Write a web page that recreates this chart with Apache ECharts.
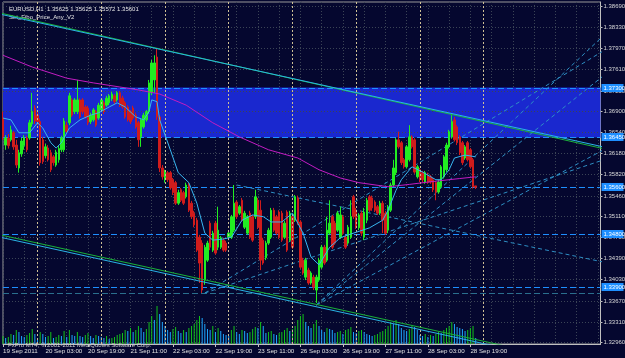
<!DOCTYPE html>
<html><head><meta charset="utf-8">
<script src="https://cdn.jsdelivr.net/npm/echarts@6/dist/echarts.min.js"></script>
<style>html,body{margin:0;padding:0;background:#05072f;}#c{width:625px;height:358px;}</style>
</head><body><div id="c"></div>
<script>
// ---------- DATA ----------
const symbolTitle = 'EURUSD,H1  1.35625 1.35625 1.35572 1.35601';
const indicatorTitle = 'Set_Fibo_Price_Any_V2';
const copyrightText = 'FxPro MT4, \u00a9 2001-2011 MetaQuotes Software Corp.';
// candles: [open, close, low, high]
const candles = [
[1.3678,1.3646,1.3641,1.3689],[1.3632,1.3644,1.3624,1.3649],[1.3644,1.3631,1.3626,1.3651],[1.3641,1.3658,1.3638,1.3665],
[1.3653,1.3629,1.3624,1.3656],[1.3632,1.3598,1.3593,1.3641],[1.3593,1.3619,1.3585,1.3624],[1.3617,1.3639,1.3612,1.3644],
[1.3631,1.3644,1.3624,1.3649],[1.3644,1.3624,1.3620,1.3648],[1.3644,1.3670,1.3641,1.3675],[1.3668,1.3689,1.3663,1.3721],
[1.3695,1.3673,1.3668,1.3700],[1.3683,1.3672,1.3666,1.3689],[1.3672,1.3602,1.3597,1.3677],[1.3641,1.3604,1.3600,1.3646],
[1.3614,1.3629,1.3610,1.3634],[1.3627,1.3607,1.3604,1.3632],[1.3619,1.3590,1.3586,1.3624],[1.3612,1.3602,1.3597,1.3615],
[1.3598,1.3620,1.3595,1.3624],[1.3607,1.3626,1.3602,1.3631],[1.3624,1.3644,1.3620,1.3648],[1.3624,1.3673,1.3620,1.3678],
[1.3666,1.3655,1.3651,1.3672],[1.3670,1.3716,1.3666,1.3721],[1.3709,1.3683,1.3680,1.3712],[1.3689,1.3709,1.3685,1.3712],
[1.3689,1.3709,1.3685,1.3743],[1.3709,1.3680,1.3677,1.3712],[1.3709,1.3689,1.3685,1.3712],[1.3697,1.3680,1.3677,1.3700],
[1.3695,1.3670,1.3666,1.3699],[1.3672,1.3683,1.3668,1.3687],[1.3675,1.3692,1.3672,1.3695],[1.3689,1.3666,1.3663,1.3692],
[1.3678,1.3700,1.3675,1.3704],[1.3692,1.3709,1.3689,1.3712],[1.3704,1.3689,1.3685,1.3707],[1.3700,1.3712,1.3697,1.3716],
[1.3704,1.3716,1.3700,1.3719],[1.3711,1.3719,1.3707,1.3723],[1.3716,1.3706,1.3702,1.3719],[1.3709,1.3721,1.3706,1.3724],
[1.3721,1.3700,1.3697,1.3724],[1.3712,1.3697,1.3694,1.3716],[1.3704,1.3680,1.3677,1.3707],[1.3697,1.3675,1.3672,1.3700],
[1.3689,1.3672,1.3668,1.3692],[1.3695,1.3678,1.3675,1.3699],[1.3683,1.3663,1.3660,1.3687],[1.3670,1.3641,1.3629,1.3673],
[1.3646,1.3675,1.3629,1.3678],[1.3663,1.3683,1.3660,1.3687],[1.3675,1.3689,1.3672,1.3692],[1.3689,1.3738,1.3685,1.3743],
[1.3721,1.3772,1.3717,1.3777],[1.3743,1.3772,1.3721,1.3785],[1.3782,1.3680,1.3675,1.3797],[1.3680,1.3593,1.3586,1.3683],
[1.3593,1.3578,1.3573,1.3598],[1.3573,1.3586,1.3568,1.3590],[1.3585,1.3573,1.3569,1.3588],[1.3585,1.3559,1.3556,1.3588],
[1.3573,1.3551,1.3547,1.3576],[1.3568,1.3533,1.3530,1.3571],[1.3533,1.3551,1.3530,1.3556],[1.3556,1.3538,1.3535,1.3559],
[1.3551,1.3533,1.3530,1.3554],[1.3544,1.3564,1.3541,1.3568],[1.3564,1.3521,1.3518,1.3568],[1.3533,1.3510,1.3506,1.3537],
[1.3516,1.3496,1.3492,1.3520],[1.3504,1.3453,1.3450,1.3508],[1.3475,1.3431,1.3397,1.3479],[1.3465,1.3385,1.3380,1.3470],
[1.3402,1.3458,1.3394,1.3462],[1.3436,1.3465,1.3433,1.3469],[1.3499,1.3458,1.3453,1.3503],[1.3453,1.3482,1.3450,1.3486],
[1.3499,1.3448,1.3445,1.3503],[1.3458,1.3487,1.3453,1.3527],[1.3458,1.3474,1.3455,1.3477],[1.3470,1.3453,1.3450,1.3474],
[1.3465,1.3453,1.3450,1.3469],[1.3475,1.3482,1.3470,1.3486],[1.3475,1.3510,1.3472,1.3513],[1.3487,1.3533,1.3484,1.3564],
[1.3535,1.3510,1.3506,1.3538],[1.3516,1.3527,1.3513,1.3530],[1.3538,1.3504,1.3501,1.3542],[1.3492,1.3516,1.3489,1.3520],
[1.3482,1.3510,1.3479,1.3513],[1.3516,1.3475,1.3472,1.3520],[1.3510,1.3470,1.3467,1.3513],[1.3510,1.3544,1.3506,1.3556],
[1.3538,1.3492,1.3489,1.3542],[1.3521,1.3436,1.3419,1.3538],[1.3470,1.3431,1.3428,1.3474],[1.3440,1.3465,1.3436,1.3469],
[1.3465,1.3487,1.3462,1.3491],[1.3475,1.3521,1.3472,1.3525],[1.3521,1.3487,1.3484,1.3525],[1.3510,1.3482,1.3479,1.3513],
[1.3518,1.3475,1.3472,1.3521],[1.3516,1.3470,1.3467,1.3520],[1.3475,1.3499,1.3472,1.3503],[1.3518,1.3453,1.3450,1.3521],
[1.3470,1.3516,1.3467,1.3520],[1.3510,1.3458,1.3455,1.3513],[1.3504,1.3544,1.3501,1.3547],[1.3542,1.3499,1.3496,1.3546],
[1.3501,1.3424,1.3421,1.3504],[1.3436,1.3414,1.3411,1.3440],[1.3407,1.3436,1.3402,1.3440],[1.3419,1.3397,1.3394,1.3423],
[1.3397,1.3414,1.3394,1.3417],[1.3407,1.3390,1.3385,1.3411],[1.3385,1.3407,1.3363,1.3411],[1.3402,1.3436,1.3399,1.3440],
[1.3424,1.3458,1.3421,1.3462],[1.3458,1.3431,1.3428,1.3462],[1.3436,1.3487,1.3433,1.3510],[1.3482,1.3499,1.3479,1.3538],
[1.3510,1.3458,1.3455,1.3513],[1.3499,1.3465,1.3462,1.3503],[1.3487,1.3516,1.3484,1.3520],[1.3475,1.3513,1.3472,1.3527],
[1.3510,1.3482,1.3479,1.3513],[1.3475,1.3458,1.3455,1.3479],[1.3465,1.3492,1.3462,1.3496],[1.3475,1.3510,1.3472,1.3538],
[1.3544,1.3510,1.3506,1.3547],[1.3521,1.3492,1.3489,1.3525],[1.3491,1.3513,1.3487,1.3516],[1.3516,1.3482,1.3477,1.3520],
[1.3475,1.3518,1.3470,1.3525],[1.3504,1.3538,1.3499,1.3542],[1.3544,1.3521,1.3518,1.3547],[1.3542,1.3525,1.3520,1.3546],
[1.3535,1.3521,1.3518,1.3538],[1.3527,1.3516,1.3513,1.3530],[1.3516,1.3533,1.3513,1.3537],[1.3533,1.3504,1.3482,1.3537],
[1.3516,1.3482,1.3479,1.3520],[1.3487,1.3527,1.3482,1.3530],[1.3521,1.3564,1.3518,1.3568],[1.3564,1.3593,1.3561,1.3607],
[1.3585,1.3641,1.3581,1.3644],[1.3641,1.3629,1.3626,1.3655],[1.3636,1.3602,1.3598,1.3639],[1.3607,1.3595,1.3592,1.3610],
[1.3595,1.3629,1.3592,1.3632],[1.3607,1.3646,1.3604,1.3666],[1.3646,1.3629,1.3626,1.3649],[1.3641,1.3586,1.3583,1.3644],
[1.3578,1.3595,1.3575,1.3598],[1.3590,1.3573,1.3569,1.3593],[1.3585,1.3573,1.3569,1.3588],[1.3569,1.3585,1.3566,1.3588],
[1.3581,1.3569,1.3566,1.3585],[1.3578,1.3569,1.3566,1.3581],[1.3573,1.3556,1.3552,1.3576],[1.3568,1.3552,1.3538,1.3571],
[1.3552,1.3569,1.3549,1.3573],[1.3561,1.3595,1.3558,1.3598],[1.3578,1.3612,1.3575,1.3615],[1.3590,1.3632,1.3586,1.3636],
[1.3629,1.3655,1.3626,1.3658],[1.3646,1.3672,1.3643,1.3683],[1.3675,1.3641,1.3638,1.3680],[1.3663,1.3636,1.3632,1.3666],
[1.3646,1.3619,1.3615,1.3649],[1.3636,1.3602,1.3598,1.3639],[1.3610,1.3629,1.3607,1.3632],[1.3636,1.3607,1.3604,1.3639],
[1.3624,1.3595,1.3592,1.3627],[1.3607,1.3561,1.3558,1.3610],[1.35625,1.35601,1.35572,1.35625]
];
const volumes = [
240,180,210,300,270,420,360,240,210,270,330,450,300,
180,360,300,210,240,360,180,210,270,240,390,210,
420,270,240,360,240,210,270,330,240,180,270,240,
210,180,240,150,180,210,270,300,330,420,390,480,
360,420,540,480,360,450,660,840,720,1140,900,660,
540,420,360,450,510,390,330,420,360,480,540,600,
720,840,780,600,450,420,540,360,480,390,300,270,
240,420,540,360,300,420,390,330,360,450,510,480,
660,540,330,360,390,300,270,330,360,420,480,390,
450,540,720,840,900,660,540,480,600,720,540,420,
360,480,450,420,330,360,390,300,420,450,510,360,
330,390,420,360,300,270,240,270,300,360,390,450,
540,660,600,720,600,480,420,390,450,540,510,420,
270,240,300,210,270,240,300,360,330,420,480,540,
660,600,510,480,450,390,420,480,540,180
];
// moving averages read at sample bars: [barIndex, price]
const fastMA = [[0,1.3678],[3,1.3675],[6,1.3653],[10,1.3653],[13,1.3670],[15,1.3661],[18,1.3636],[20,1.3627],[22,1.3636],
[25,1.3661],[29,1.3675],[33,1.3683],[36,1.3687],[40,1.3697],[43,1.3704],[46,1.3697],[50,1.3680],[53,1.3675],[55,1.3689],
[56,1.3709],[58,1.3706],[59,1.3675],[63,1.3624],[66,1.3585],[70,1.3568],[73,1.3533],[76,1.3482],[79,1.3470],[83,1.3472],
[86,1.3475],[90,1.3504],[94,1.3513],[98,1.3510],[101,1.3501],[105,1.3501],[109,1.3516],[113,1.3482],[116,1.3441],
[119,1.3428],[123,1.3458],[127,1.3474],[130,1.3479],[138,1.3491],[143,1.3504],[145,1.3521],[148,1.3555],[150,1.3573],
[154,1.3595],[158,1.3586],[163,1.3573],[165,1.3573],[168,1.3590],[170,1.3610],[174,1.3615],[178,1.3612]];
const slowMA = [[0,1.3785],[11,1.3765],[24,1.3746],[34,1.3738],[44,1.3731],[51,1.3726],[59,1.3719],[69,1.3700],[79,1.3670],
[89,1.3646],[100,1.3624],[111,1.3610],[119,1.3590],[127,1.3576],[134,1.3568],[145,1.3561],[153,1.3565],[160,1.3569],
[172,1.3575],[178,1.3578]];
const priceTicks = [1.38690,1.38330,1.37970,1.37610,1.37250,1.36900,1.36540,1.36180,1.35820,1.35460,1.35110,1.34750,1.34390,1.34030,1.33670,1.33310,1.32960];
const levelPrices = [1.37300,1.36450,1.35600,1.34800,1.33900];
const extraLevelPrices = [1.33800];
const bandRange = [1.36450,1.37300];
const timeLabels = ['19 Sep 2011','20 Sep 03:00','20 Sep 19:00','21 Sep 11:00','22 Sep 03:00','22 Sep 19:00','23 Sep 11:00','26 Sep 03:00','26 Sep 19:00','27 Sep 11:00','28 Sep 03:00','28 Sep 19:00'];
const daySeparators = ['20 Sep 00:00','21 Sep 00:00','22 Sep 00:00','23 Sep 00:00','26 Sep 00:00','27 Sep 00:00','28 Sep 00:00','29 Sep 00:00'];
// solid trend lines: [[bar, price],[bar, price]]
const trendGreenTop = [[-1,1.3857],[226,1.3626]];
const trendCyanTop = [[-1,1.3855],[226,1.3629]];
const trendCyanLow = [[-1,1.3475],[226,1.3249]];
const trendGreenLow = [[-1,1.3479],[226,1.3253]];
// dashed fan / channel lines
const fanLines = [
  [[117.7,1.33595],[225.6,1.38179]],
  [[117.7,1.33595],[225.6,1.37497]],
  [[117.7,1.33595],[225.6,1.36236]],
  [[76.3,1.33800],[225.6,1.37923]],
  [[76.3,1.33800],[225.6,1.36066]],
  [[87.6,1.35640],[225.6,1.34328]]
];

// ---------- time categories (hourly, weekend skipped) ----------
const months = ['Jan','Feb','Mar','Apr','May','Jun','Jul','Aug','Sep','Oct','Nov','Dec'];
const categories = [];
let t = Date.UTC(2011, 8, 19, 11);
while (categories.length < 226) {
  const d = new Date(t);
  const dow = d.getUTCDay();
  if (dow !== 0 && dow !== 6) {
    const hh = String(d.getUTCHours()).padStart(2, '0');
    categories.push(d.getUTCDate() + ' ' + months[d.getUTCMonth()] + ' ' + hh + ':00');
  }
  t += 3600000;
}
const labelSet = new Set(timeLabels.slice(1));
const showLabel = (idx, val) => idx === 0 || labelSet.has(val);

const FONT = 'Liberation Sans';
const chart = echarts.init(document.getElementById('c'), null, {renderer: 'canvas'});

function tickRender(params, api) {
  const cs = params.coordSys;
  const v = api.value(1);
  const y = Math.round(api.coord([0, v])[1]) + 0.5;
  return {type: 'group', children: [
    {type: 'line', shape: {x1: cs.x, y1: y, x2: cs.x + cs.width, y2: y},
     style: {stroke: '#3b4456', lineWidth: 1, lineDash: [1, 2]}},
    {type: 'line', shape: {x1: cs.x + cs.width, y1: y, x2: cs.x + cs.width + 2, y2: y},
     style: {stroke: '#c0c0c0', lineWidth: 1}},
    {type: 'text', style: {x: cs.x + cs.width + 3, y: y, text: v.toFixed(5), fill: '#d8d8d8',
      fontSize: 6, fontFamily: FONT, verticalAlign: 'middle', align: 'left'}}
  ]};
}
function hLineRender(color, dash) {
  return function (params, api) {
    const cs = params.coordSys;
    const y = Math.round(api.coord([0, api.value(1)])[1]) + 0.5;
    return {type: 'line', shape: {x1: cs.x, y1: y, x2: cs.x + cs.width, y2: y},
      style: {stroke: color, lineWidth: 1, lineDash: dash}};
  };
}
function levelLabelRender(params, api) {
  const cs = params.coordSys;
  const v = api.value(1);
  const y = Math.round(api.coord([0, v])[1]);
  return {type: 'group', children: [
    {type: 'rect', shape: {x: cs.x + cs.width + 1, y: y - 4, width: 22, height: 8},
     style: {fill: '#1e8fff'}},
    {type: 'text', style: {x: cs.x + cs.width + 3, y: y, text: v.toFixed(5), fill: '#ffffff',
      fontSize: 6, fontFamily: FONT, verticalAlign: 'middle', align: 'left'}}
  ]};
}
const lineSer = (name, data, color, z, dash) => ({
  type: 'line', name, data, showSymbol: false, symbol: 'none', silent: true, z: z || 3,
  lineStyle: {color, width: 1, type: dash || 'solid'}, clip: true, animation: false
});

const series = [
  {type: 'line', name: 'band', data: [], z: 0, silent: true,
   markArea: {silent: true, itemStyle: {color: '#1a28cf', opacity: 1}, data: [[{yAxis: bandRange[0]}, {yAxis: bandRange[1]}]]}},
  {type: 'custom', name: 'grid', data: priceTicks.map(v => [0, v]), renderItem: tickRender, z: 1, silent: true, clip: false},
  {type: 'custom', name: 'levels', data: levelPrices.map(v => [0, v]), renderItem: hLineRender('#1e8fff', [6, 3]), z: 2, silent: true},
  {type: 'custom', name: 'extraLevels', data: extraLevelPrices.map(v => [0, v]), renderItem: hLineRender('#2a6f8e', [6, 3]), z: 2, silent: true},
  {type: 'bar', name: 'volume', yAxisIndex: 1, data: volumes, barWidth: 1, z: 2, silent: true,
   itemStyle: {color: p => (p.dataIndex > 0 && volumes[p.dataIndex] < volumes[p.dataIndex - 1]) ? '#1ea7ff' : '#12c21a'}},
  {type: 'line', name: 'separators', data: [], z: 2, silent: true,
   markLine: {silent: true, symbol: 'none', label: {show: false},
     lineStyle: {color: '#cdbf94', width: 1, type: [2, 2]},
     data: daySeparators.map(s => ({xAxis: s}))}}
];
fanLines.forEach((d, k) => series.push(lineSer('fan' + k, d, '#2e8fc4', 3, [4, 3])));
series.push(
  {type: 'candlestick', name: 'EURUSD', data: candles, barWidth: 2, z: 4, silent: true,
   itemStyle: {color: '#22ee22', color0: '#d01c1c', borderColor: '#22ee22', borderColor0: '#d01c1c', borderWidth: 1}},
  lineSer('slowMA', slowMA, '#c21cc2', 5),
  lineSer('fastMA', fastMA, '#38b6f0', 5),
  lineSer('trendGreenTop', trendGreenTop, '#1bb33a', 6),
  lineSer('trendCyanTop', trendCyanTop, '#2ab4e6', 6),
  lineSer('trendGreenLow', trendGreenLow, '#1bb33a', 6),
  lineSer('trendCyanLow', trendCyanLow, '#2ab4e6', 6),
  {type: 'custom', name: 'levelLabels', data: levelPrices.map(v => [0, v]), renderItem: levelLabelRender, z: 10, silent: true, clip: false}
);

const option = {
  animation: false,
  backgroundColor: '#05072f',
  title: [
    {text: symbolTitle, left: 4, top: 1, textStyle: {color: '#e6e6e6', fontSize: 6, fontWeight: 'normal', fontFamily: FONT}},
    {text: indicatorTitle, left: 4, top: 9, textStyle: {color: '#e6e6e6', fontSize: 6, fontWeight: 'normal', fontFamily: FONT}},
    {text: copyrightText, left: 3, top: 337, textStyle: {color: '#d0d0d0', fontSize: 6, fontWeight: 'normal', fontFamily: FONT}}
  ],
  grid: {left: 2, top: 2, width: 598.5, height: 342, show: true, borderColor: '#9a9a9a', borderWidth: 1, backgroundColor: 'transparent'},
  xAxis: {
    type: 'category', data: categories, boundaryGap: false,
    axisLine: {show: true, lineStyle: {color: '#c0c0c0'}},
    axisTick: {show: true, interval: showLabel, length: 3, lineStyle: {color: '#c0c0c0'}},
    axisLabel: {show: true, interval: showLabel, align: 'left', margin: 4, color: '#e0e0e0', fontSize: 6.2, fontFamily: FONT,
      formatter: (val, idx) => idx === 0 ? timeLabels[0] : val},
    splitLine: {show: true, interval: (idx) => idx % 8 === 0, lineStyle: {color: '#3b4456', type: [1, 2]}}
  },
  yAxis: [
    {type: 'value', position: 'right', min: 1.32931, max: 1.38758, scale: true,
     axisLine: {show: true, lineStyle: {color: '#c0c0c0'}}, axisTick: {show: false}, axisLabel: {show: false}, splitLine: {show: false}},
    {type: 'value', min: 0, max: 10260, show: false}
  ],
  series
};
chart.setOption(option);
</script></body></html>
